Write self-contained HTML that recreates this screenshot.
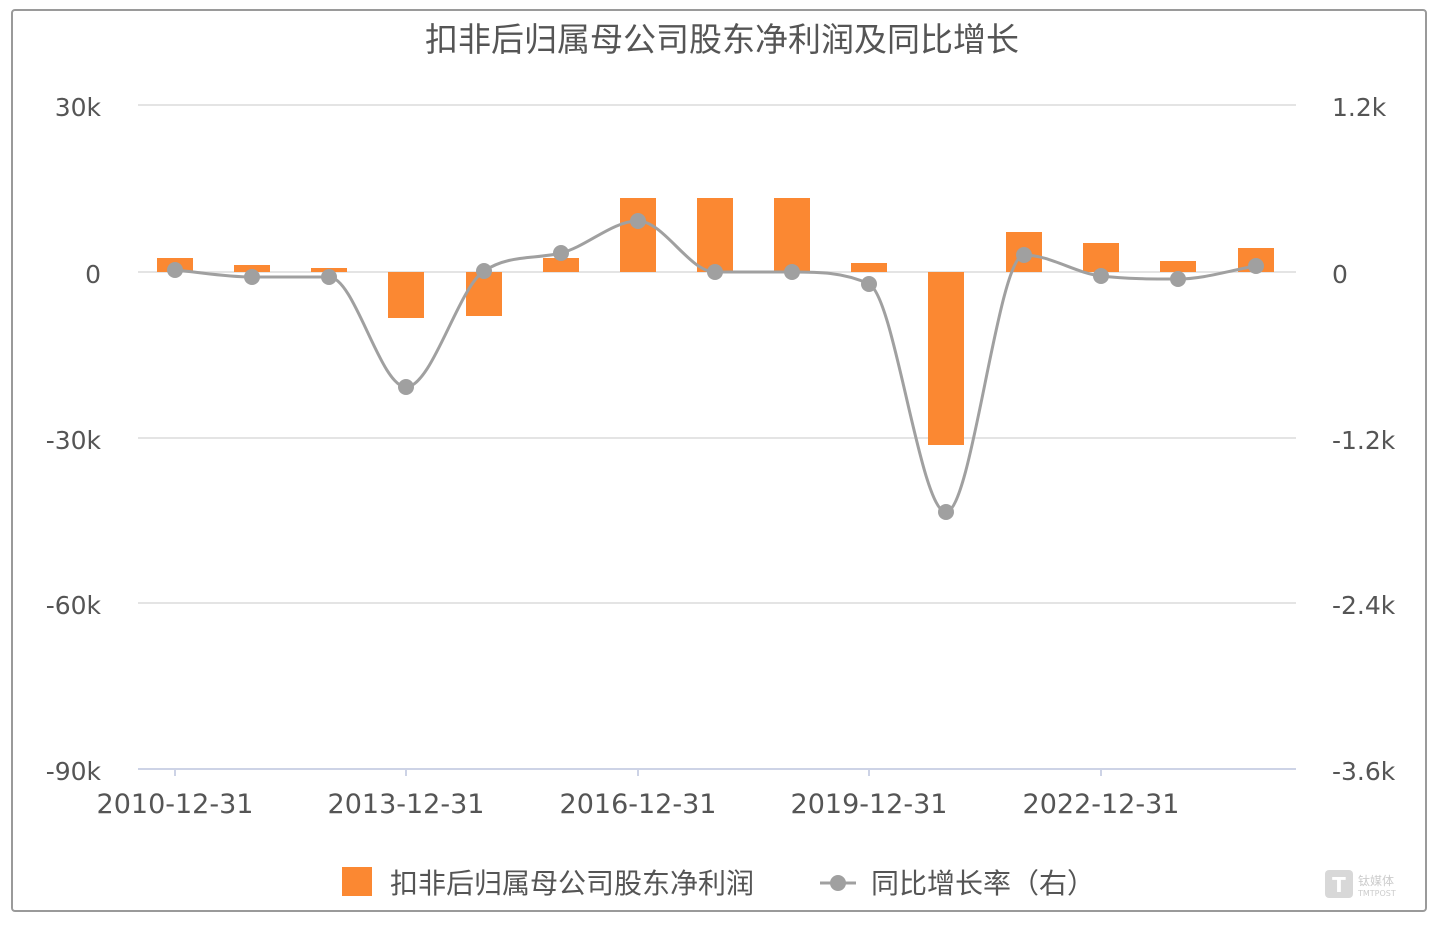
<!DOCTYPE html>
<html><head><meta charset="utf-8"><style>
html,body{margin:0;padding:0;background:#fff;}
body{width:1439px;height:923px;overflow:hidden;font-family:"Liberation Sans","Noto Sans CJK SC",sans-serif;}
</style></head><body>
<svg id="s" width="1439" height="923" xmlns="http://www.w3.org/2000/svg" font-family="DejaVu Sans, Noto Sans CJK SC, sans-serif">
<rect x="12" y="10" width="1414" height="901" rx="3" fill="#fff" stroke="#9a9a9a" stroke-width="2"/>
<text x="722" y="51" text-anchor="middle" font-size="33" fill="#555" font-family="Noto Sans CJK SC, sans-serif">扣非后归属母公司股东净利润及同比增长</text>
<g stroke="#e4e4e4" stroke-width="2">
<line x1="138" y1="105" x2="1296" y2="105"/>
<line x1="138" y1="272" x2="1296" y2="272"/>
<line x1="138" y1="438" x2="1296" y2="438"/>
<line x1="138" y1="603" x2="1296" y2="603"/>
</g>
<line x1="138" y1="769" x2="1296" y2="769" stroke="#cdd3e6" stroke-width="2"/>
<g stroke="#cdd3e6" stroke-width="2">
<line x1="175" y1="769" x2="175" y2="776"/><line x1="406" y1="769" x2="406" y2="776"/><line x1="638" y1="769" x2="638" y2="776"/><line x1="869" y1="769" x2="869" y2="776"/><line x1="1101" y1="769" x2="1101" y2="776"/>
</g>
<g font-size="25" fill="#555" text-anchor="end">
<text x="101" y="116">30k</text><text x="101" y="283">0</text><text x="101" y="449">-30k</text><text x="101" y="614">-60k</text><text x="101" y="780">-90k</text>
</g>
<g font-size="25" fill="#555" text-anchor="start">
<text x="1332" y="116">1.2k</text><text x="1332" y="283">0</text><text x="1332" y="449">-1.2k</text><text x="1332" y="614">-2.4k</text><text x="1332" y="780">-3.6k</text>
</g>
<g font-size="27" fill="#555" text-anchor="middle">
<text x="175" y="813">2010-12-31</text><text x="406" y="813">2013-12-31</text><text x="638" y="813">2016-12-31</text><text x="869" y="813">2019-12-31</text><text x="1101" y="813">2022-12-31</text>
</g>
<g id="bars" fill="#fb8832"></g>
<path id="ln" fill="none" stroke="#a0a0a0" stroke-width="3"/>
<g id="dots" fill="#a0a0a0"></g>
<rect x="342" y="867" width="30" height="29" fill="#fb8832"/>
<text x="390" y="893" font-size="28" fill="#555" font-family="Noto Sans CJK SC, sans-serif">扣非后归属母公司股东净利润</text>
<line x1="820" y1="883" x2="856" y2="883" stroke="#a0a0a0" stroke-width="3"/>
<circle cx="838" cy="883" r="8" fill="#a0a0a0"/>
<text x="871" y="893" font-size="28" fill="#555" font-family="Noto Sans CJK SC, sans-serif">同比增长率（右）</text>
<rect x="1325" y="870" width="28" height="28" rx="4" fill="#d8d8d8"/>
<text x="1339" y="892" font-size="20" fill="#fff" text-anchor="middle" font-weight="bold">T</text>
<text x="1358" y="885" font-size="12" fill="#ccc" font-family="Noto Sans CJK SC, sans-serif">钛媒体</text>
<text x="1358" y="896" font-size="8" fill="#ccc">TMTPOST</text>
</svg>
<script>
var xs=[175,252,329,406,484,561,638,715,792,869,946,1024,1101,1178,1256];
var tops=[258,265,268,318,316,258,198,198,198,263,445,232,243,261,248];
var ys=[270,277,277,387,271,253,221,272,272,284,512,255,276,279,266];
var ns="http://www.w3.org/2000/svg",b=document.getElementById('bars'),d=document.getElementById('dots');
for(var i=0;i<15;i++){var r=document.createElementNS(ns,'rect');var t=tops[i],y0=272;
r.setAttribute('x',xs[i]-18);r.setAttribute('width',36);r.setAttribute('y',Math.min(t,y0));r.setAttribute('height',Math.abs(t-y0));b.appendChild(r);}
var n=15,dl=[],m=[];
for(var i=0;i<n-1;i++)dl.push((ys[i+1]-ys[i])/(xs[i+1]-xs[i]));
m[0]=dl[0];m[n-1]=dl[n-2];
for(var i=1;i<n-1;i++){if(dl[i-1]*dl[i]<=0)m[i]=0;else m[i]=(dl[i-1]+dl[i])/2;}
for(var i=0;i<n-1;i++){if(dl[i]==0){m[i]=0;m[i+1]=0;continue;}var a=m[i]/dl[i],bb=m[i+1]/dl[i],s=a*a+bb*bb;if(s>9){var tt=3/Math.sqrt(s);m[i]=tt*a*dl[i];m[i+1]=tt*bb*dl[i];}}
var p='M'+xs[0]+','+ys[0];
for(var i=0;i<n-1;i++){var h=(xs[i+1]-xs[i])/3;
p+=' C'+(xs[i]+h)+','+(ys[i]+m[i]*h)+' '+(xs[i+1]-h)+','+(ys[i+1]-m[i+1]*h)+' '+xs[i+1]+','+ys[i+1];}
document.getElementById('ln').setAttribute('d',p);
for(var i=0;i<15;i++){var c=document.createElementNS(ns,'circle');c.setAttribute('cx',xs[i]);c.setAttribute('cy',ys[i]);c.setAttribute('r',8);d.appendChild(c);}
</script>
</body></html>
